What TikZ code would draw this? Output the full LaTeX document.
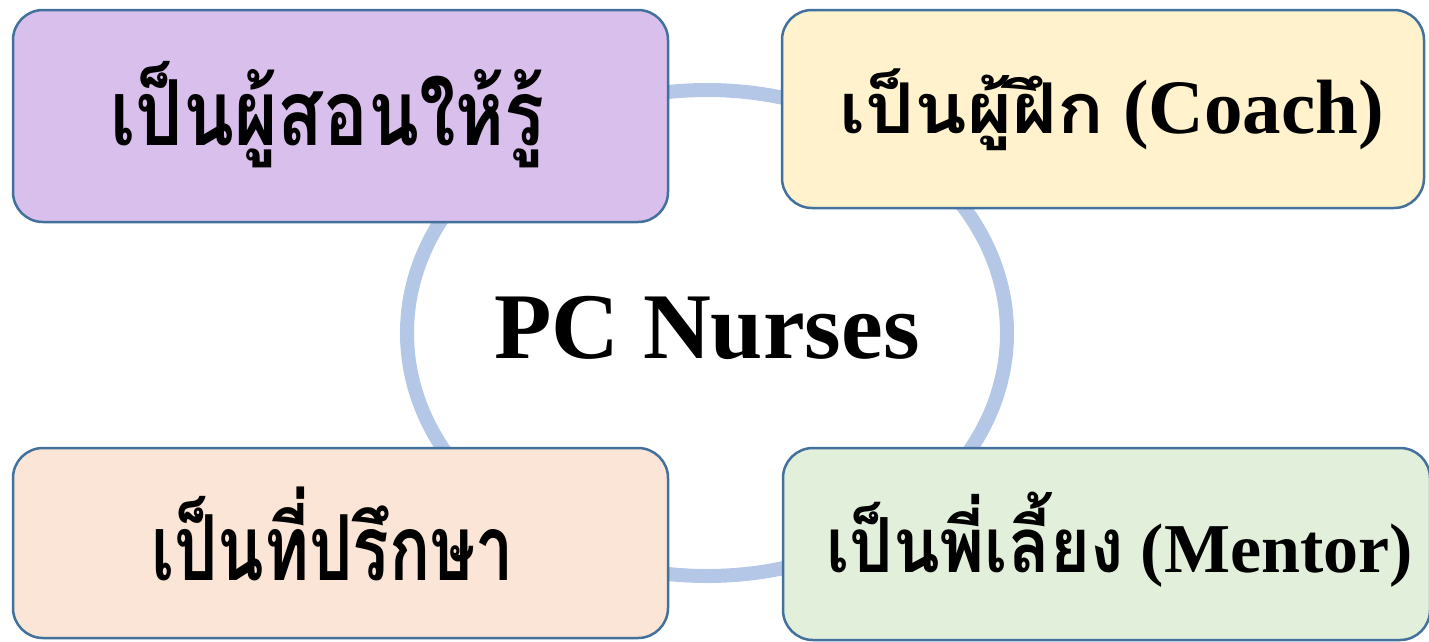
\documentclass[tikz,border=0pt]{standalone}
\usepackage{fontspec}
\setmainfont{Liberation Serif}
\newfontfamily\thaiA[Script=Thai, FakeStretch=0.82]{Loma}
\newfontfamily\thaiB[Script=Thai, FakeStretch=1.1]{Loma}
\newfontfamily\thaiC[Script=Thai, FakeStretch=0.75]{Loma}
\newfontfamily\thaiD[Script=Thai, FakeStretch=0.9]{Loma}
\usetikzlibrary{shapes.geometric}
\definecolor{edgeblue}{HTML}{41719C}
\definecolor{ringblue}{HTML}{B4C7E7}
\definecolor{fillpurple}{HTML}{D8BFEC}
\definecolor{fillyellow}{HTML}{FFF2CC}
\definecolor{fillpeach}{HTML}{FBE5D6}
\definecolor{fillgreen}{HTML}{E2EFDA}
\newcommand\fsz[1]{\fontsize{#1}{#1}\selectfont}
\tikzset{
  rolebox/.style={draw=edgeblue, line width=2.5pt, rounded corners=30pt, inner sep=0pt, rectangle},
  roletext/.style={anchor=base west, inner sep=0pt, font=\bfseries},
  ring/.style={draw=ringblue, line width=14pt, ellipse, inner sep=0pt}
}
\begin{document}
\begin{tikzpicture}[x=1pt,y=-1pt]
\useasboundingbox (0,0) rectangle (1429,641);
\node[ring, minimum width=600pt, minimum height=486pt] (ringnode) at (707,333) {};
\node[anchor=base, inner sep=0pt, font=\bfseries\fsz{94}] (pc) at (707,358) {PC Nurses};
\node[rolebox, fill=fillpurple, minimum width=655pt, minimum height=212pt] (b1) at (340.5,116) {};
\node[rolebox, fill=fillyellow, minimum width=642pt, minimum height=198pt] (b2) at (1103,109) {};
\node[rolebox, fill=fillpeach, minimum width=655pt, minimum height=190pt] (b3) at (340.5,543) {};
\node[rolebox, fill=fillgreen, minimum width=647pt, minimum height=192pt] (b4) at (1106.5,544) {};
\node[roletext] (t1) at (110,145) {\thaiA\bfseries\fsz{91}เป็นผู้สอนให้รู้};
\node[roletext] (t2) at (839,133) {{\thaiB\bfseries\fsz{70}เป็นผู้ฝึก}{\fsz{77}~(Coach)}};
\node[roletext] (t3) at (151,580) {\thaiC\bfseries\fsz{91}เป็นที่ปรึกษา};
\node[roletext] (t4) at (826,572) {{\thaiD\bfseries\fsz{76}เป็นพี่เลี้ยง}{\fsz{70}~(Mentor)}};
\end{tikzpicture}
\end{document}
